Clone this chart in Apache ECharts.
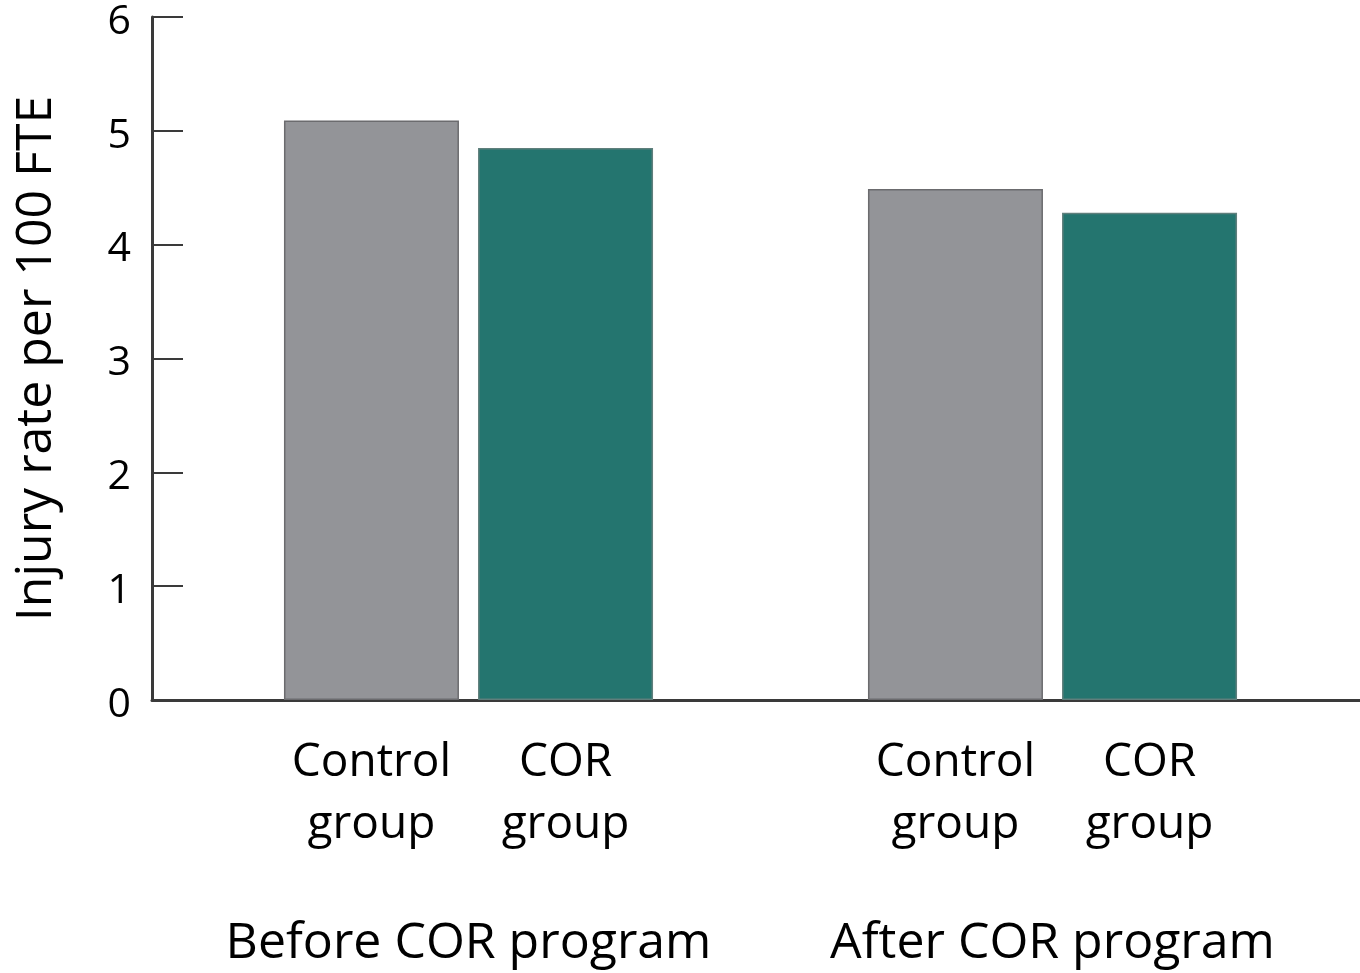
<!DOCTYPE html>
<html>
<head>
<meta charset="utf-8">
<script src="https://cdn.jsdelivr.net/npm/echarts@6/dist/echarts.min.js"></script>
<style>
html,body{margin:0;padding:0;background:#fff;}
#chart{width:1360px;height:973px;}
</style>
</head>
<body>
<div id="chart"></div>
<script>
const periods = ['Before COR program', 'After COR program'];
const groupNames = ['Control group', 'COR group'];
const controlValues = [5.09, 4.49];
const corValues = [4.85, 4.28];
const yTicks = [0, 1, 2, 3, 4, 5, 6];

const FONT = '"Open Sans", sans-serif';
const chart = echarts.init(document.getElementById('chart'), null, {renderer: 'canvas'});

function subLabel(name) {
  return name.replace(' ', '\n');
}

const option = {
  backgroundColor: '#ffffff',
  animation: false,
  textStyle: {fontFamily: FONT},
  grid: [
    {left: 152, right: 0, top: 17, height: 683},
    {left: 176.5, width: 1168, top: 17, height: 683}
  ],
  xAxis: [
    {
      gridIndex: 0, type: 'category', data: [''],
      axisLine: {show: true, lineStyle: {color: '#3a3a3a', width: 3}},
      axisTick: {show: false}, axisLabel: {show: false}
    },
    {
      gridIndex: 1, type: 'category', data: periods,
      axisLine: {show: false}, axisTick: {show: false},
      axisLabel: {interval: 0, margin: 219, fontSize: 50, color: '#000', fontFamily: FONT}
    }
  ],
  yAxis: [
    {
      gridIndex: 0, type: 'value', min: yTicks[0], max: yTicks[yTicks.length - 1], interval: 1,
      name: 'Injury rate per 100 FTE', nameLocation: 'middle', nameGap: 90,
      nameTextStyle: {fontSize: 50, color: '#000', fontFamily: FONT},
      axisLine: {show: true, lineStyle: {color: '#3a3a3a', width: 3}},
      axisTick: {show: true, inside: true, length: 31, lineStyle: {color: '#3a3a3a', width: 2}},
      axisLabel: {margin: 21, fontSize: 41, color: '#000', fontFamily: FONT, verticalAlign: 'top', lineHeight: 10},
      splitLine: {show: false}
    },
    {
      gridIndex: 1, type: 'value', min: yTicks[0], max: yTicks[yTicks.length - 1],
      show: false, splitLine: {show: false}
    }
  ],
  series: [
    {
      name: groupNames[0], type: 'bar', xAxisIndex: 1, yAxisIndex: 1,
      data: controlValues, barWidth: 175, barGap: '10.9%',
      itemStyle: {color: '#939498', borderColor: '#6b6b6e', borderWidth: 1.5},
      label: {
        show: true, position: 'bottom', distance: 32,
        formatter: () => subLabel(groupNames[0]),
        fontSize: 46, lineHeight: 62, color: '#000', fontFamily: FONT, align: 'center'
      }
    },
    {
      name: groupNames[1], type: 'bar', xAxisIndex: 1, yAxisIndex: 1,
      data: corValues, barWidth: 175,
      itemStyle: {color: '#24756f', borderColor: '#5f7f7c', borderWidth: 1.5},
      label: {
        show: true, position: 'bottom', distance: 32,
        formatter: () => subLabel(groupNames[1]),
        fontSize: 46, lineHeight: 62, color: '#000', fontFamily: FONT, align: 'center'
      }
    }
  ]
};
chart.setOption(option);
</script>
</body>
</html>
